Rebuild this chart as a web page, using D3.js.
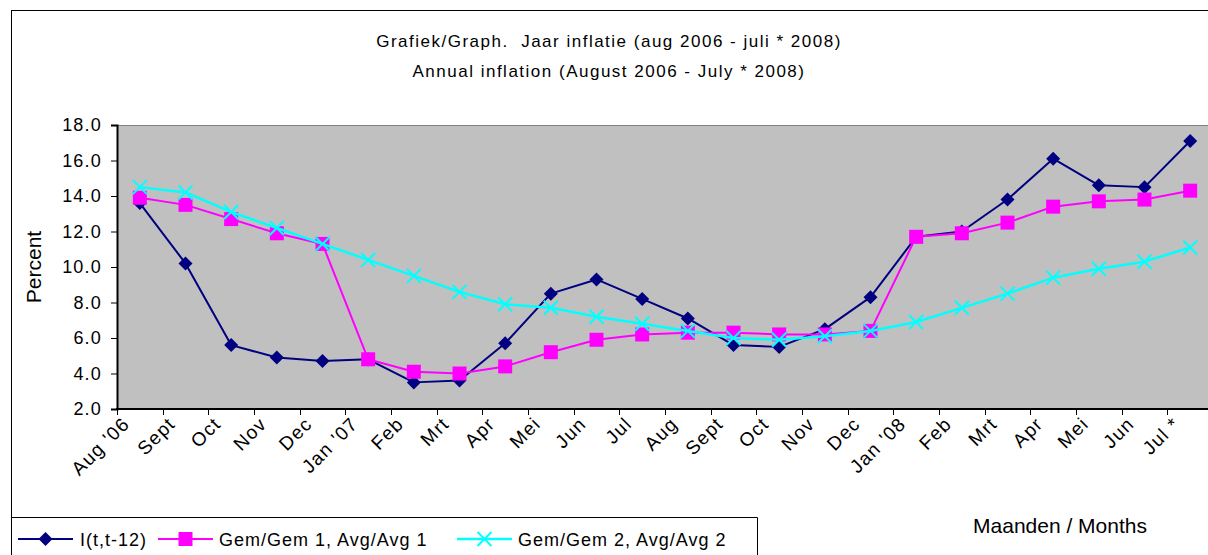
<!DOCTYPE html>
<html>
<head>
<meta charset="utf-8">
<script src="https://cdn.jsdelivr.net/npm/d3@7"></script>
<style>
  html, body { margin: 0; padding: 0; background: #fff; }
  svg { display: block; font-family: "Liberation Sans", Arial, sans-serif; }
</style>
</head>
<body>
<svg id="chart" width="1208" height="555"></svg>
<script>
// ---- data ----
const months = ["Aug '06","Sept","Oct","Nov","Dec","Jan '07","Feb","Mrt","Apr","Mei","Jun","Jul",
                "Aug","Sept","Oct","Nov","Dec","Jan '08","Feb","Mrt","Apr","Mei","Jun","Jul *"];
const inflation = [13.6, 10.2, 5.6, 4.9, 4.7, 4.8, 3.5, 3.6, 5.7, 8.5, 9.3, 8.2,
                   7.1, 5.6, 5.5, 6.5, 8.3, 11.7, 12.0, 13.8, 16.1, 14.6, 14.5, 17.1];
const avg1 = [13.9, 13.5, 12.7, 11.9, 11.3, 4.8, 4.1, 4.0, 4.4, 5.2, 5.9, 6.2,
              6.3, 6.3, 6.2, 6.2, 6.4, 11.7, 11.9, 12.5, 13.4, 13.7, 13.8, 14.3];
const avg2 = [14.5, 14.2, 13.1, 12.2, 11.3, 10.4, 9.5, 8.6, 7.9, 7.7, 7.2, 6.8,
              6.4, 6.0, 5.9, 6.1, 6.4, 6.9, 7.7, 8.5, 9.4, 9.9, 10.3, 11.1];
const yTicks = [2, 4, 6, 8, 10, 12, 14, 16, 18];
const seriesNames = ["I(t,t-12)", "Gem/Gem 1, Avg/Avg 1", "Gem/Gem 2, Avg/Avg 2"];
const titleLines = ["Grafiek/Graph.  Jaar inflatie (aug 2006 - juli * 2008)",
                    "Annual inflation (August 2006 - July * 2008)"];

// ---- layout ----
const svg = d3.select("#chart");
const plot = { left: 117, top: 125, right: 1213, bottom: 409 };

const x = d3.scaleBand().domain(d3.range(months.length)).range([plot.left, plot.right]);
const y = d3.scaleLinear().domain([2, 18]).range([plot.bottom, plot.top]);
const cx = i => x(i) + x.bandwidth() / 2;

// outer chart border
svg.append("rect").attr("x", 11.5).attr("y", 10.5).attr("width", 1300).attr("height", 700)
  .attr("fill", "#fff").attr("stroke", "#000").attr("stroke-width", 1);

// title
const title = svg.append("text").attr("text-anchor", "middle")
  .attr("font-size", 17).attr("letter-spacing", 1.5).attr("fill", "#000")
  .style("white-space", "pre");
titleLines.forEach((t, i) => {
  title.append("tspan").attr("x", 609).attr("y", 47 + i * 30).text(t);
});

// plot background
svg.append("rect").attr("x", plot.left).attr("y", plot.top)
  .attr("width", plot.right - plot.left).attr("height", plot.bottom - plot.top)
  .attr("fill", "#c0c0c0");
svg.append("line").attr("x1", plot.left).attr("x2", plot.right)
  .attr("y1", plot.top + 0.5).attr("y2", plot.top + 0.5)
  .attr("stroke", "#808080").attr("stroke-width", 1);

// y axis
const yAxis = d3.axisLeft(y).tickValues(yTicks).tickFormat(d3.format(".1f")).tickSize(6).tickPadding(9);
const gy = svg.append("g").attr("transform", `translate(${plot.left},0)`).call(yAxis);
gy.select(".domain").attr("stroke", "#000").attr("stroke-width", 2);
gy.selectAll(".tick line").attr("stroke", "#000");
gy.selectAll(".tick text").attr("font-size", 18).attr("letter-spacing", 1.2)
  .attr("font-family", "Liberation Sans, Arial, sans-serif").attr("fill", "#000");

// x axis: ticks at category boundaries
const gx = svg.append("g");
gx.append("line").attr("x1", plot.left - 1).attr("x2", plot.right)
  .attr("y1", plot.bottom).attr("y2", plot.bottom).attr("stroke", "#000").attr("stroke-width", 2);
gx.selectAll("line.tk").data(d3.range(months.length + 1)).join("line").attr("class", "tk")
  .attr("x1", i => Math.round(plot.left + i * x.bandwidth()) + 0.5)
  .attr("x2", i => Math.round(plot.left + i * x.bandwidth()) + 0.5)
  .attr("y1", plot.bottom).attr("y2", plot.bottom + 6).attr("stroke", "#000");
gx.selectAll("text").data(months).join("text")
  .attr("transform", (d, i) => `translate(${cx(i) - 9},${425}) rotate(-45)`)
  .attr("text-anchor", "end").attr("font-size", 19).attr("letter-spacing", 1.3)
  .attr("fill", "#000").style("white-space", "pre").text(d => d);

// axis titles
svg.append("text").attr("transform", `translate(41,${(plot.top + plot.bottom) / 2}) rotate(-90)`)
  .attr("text-anchor", "middle").attr("font-size", 21).attr("fill", "#000").text("Percent");
svg.append("text").attr("x", 1060).attr("y", 533).attr("text-anchor", "middle")
  .attr("font-size", 21).attr("fill", "#000").text("Maanden / Months");

// markers
function drawMarker(g, type, color) {
  if (type === "diamond") {
    g.append("path").attr("d", "M0,-7L7,0L0,7L-7,0Z").attr("fill", color);
  } else if (type === "square") {
    g.append("rect").attr("x", -7).attr("y", -7).attr("width", 14).attr("height", 14).attr("fill", color);
  } else {
    g.append("path").attr("d", "M-7,-7L7,7M-7,7L7,-7").attr("stroke", color)
      .attr("stroke-width", 2).attr("fill", "none");
  }
}

const series = [
  { name: seriesNames[0], values: inflation, color: "#000080", marker: "diamond", width: 2 },
  { name: seriesNames[1], values: avg1, color: "#ff00ff", marker: "square", width: 2 },
  { name: seriesNames[2], values: avg2, color: "#00ffff", marker: "x", width: 2.5 }
];

const line = d3.line().x((d, i) => cx(i)).y(d => y(d));
series.forEach(s => {
  const g = svg.append("g");
  g.append("path").datum(s.values).attr("d", line).attr("fill", "none")
    .attr("stroke", s.color).attr("stroke-width", s.width).attr("stroke-linejoin", "round");
  s.values.forEach((v, i) => {
    const m = g.append("g").attr("transform", `translate(${cx(i)},${y(v)})`);
    drawMarker(m, s.marker, s.color);
  });
});

// legend
const lg = svg.append("g");
lg.append("path").attr("d", "M11.5,517.5H757.5V600").attr("fill", "none").attr("stroke", "#000");
const legendPos = [{ x0: 18, x1: 73, tx: 80 }, { x0: 158, x1: 213, tx: 219 }, { x0: 457, x1: 512, tx: 518 }];
series.forEach((s, i) => {
  const p = legendPos[i];
  lg.append("line").attr("x1", p.x0).attr("x2", p.x1).attr("y1", 539).attr("y2", 539)
    .attr("stroke", s.color).attr("stroke-width", s.width);
  const m = lg.append("g").attr("transform", `translate(${(p.x0 + p.x1) / 2},539)`);
  drawMarker(m, s.marker, s.color);
  lg.append("text").attr("x", p.tx).attr("y", 546).attr("font-size", 18).attr("letter-spacing", 1)
    .attr("fill", "#000").text(s.name);
});
</script>
</body>
</html>
